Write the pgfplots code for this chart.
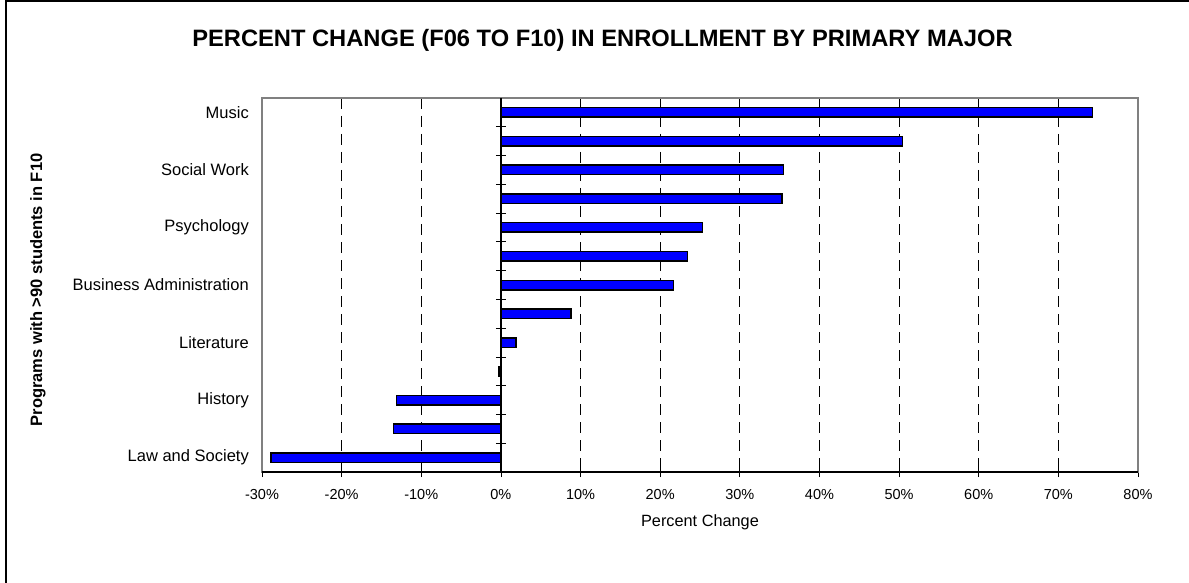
\documentclass[border=0pt]{standalone}
\usepackage{pgfplots}
\pgfplotsset{compat=1.18}
\usepackage{pgfplotstable}
\usepackage{fontspec}
\setmainfont{Liberation Sans}
\definecolor{barblue}{RGB}{0,0,255}
\definecolor{framegray}{RGB}{128,128,128}
\pgfplotstableread{
idx val
0 74.3
1 50.4
2 35.5
3 35.3
4 25.3
5 23.4
6 21.7
7 8.8
8 1.9
9 -0.25
10 -13.1
11 -13.5
12 -28.9
}\datatable
\begin{document}
\begin{tikzpicture}
\useasboundingbox (-262pt,-111pt) rectangle (927pt,472pt);
\draw[line width=1.6pt] (-256pt,-111pt) -- (-256pt,471pt) -- (927pt,471pt);
\begin{axis}[
  at={(0pt,0pt)}, anchor=south west,
  scale only axis, width=876pt, height=374pt,
  xmin=-30, xmax=80, ymin=-0.5, ymax=12.5, y dir=reverse,
  xbar, bar width=9.5pt,
  xtick={-30,-20,...,80},
  xticklabels={-30\%,-20\%,-10\%,0\%,10\%,20\%,30\%,40\%,50\%,60\%,70\%,80\%},
  xtick pos=bottom, tick align=center, major tick length=10pt,
  x tick style={black, line width=0.8pt},
  xticklabel style={font=\fontsize{14.5}{17}\selectfont, anchor=base, yshift=-22pt},
  ytick={0,2,...,12},
  yticklabels={Music,Social Work,Psychology,Business Administration,Literature,History,Law and Society},
  ytick pos=left, y tick style={draw=none},
  yticklabel style={font=\fontsize{16.5}{19}\selectfont, inner sep=0pt, xshift=-8pt},
  axis line style={framegray, line width=1.2pt},
  xmajorgrids, grid style={black, line width=0.8pt, dash pattern=on 11pt off 7pt},
  xlabel={Percent Change},
  xlabel style={at={(axis description cs:0.5,0)}, anchor=center, yshift=-50pt, font=\fontsize{16.3}{19}\selectfont},
  ylabel={Programs with >90 students in F10},
  ylabel style={at={(axis description cs:0,0.5)}, anchor=center, yshift=224pt, xshift=-5pt, font=\fontsize{16.5}{19}\selectfont\bfseries},
  title={PERCENT CHANGE (F06 TO F10) IN ENROLLMENT BY PRIMARY MAJOR},
  title style={at={(axis description cs:0.5,1)}, anchor=center, xshift=-97.5pt, yshift=52pt, font=\fontsize{23.7}{27}\selectfont\bfseries},
]
\addplot[fill=barblue, draw=black, line width=1.5pt] table[x=val, y=idx] {\datatable};
\draw[black, line width=1.4pt] (rel axis cs:0,0) -- (rel axis cs:1,0);
\end{axis}
\begin{axis}[
  at={(0pt,0pt)}, anchor=south west,
  scale only axis, width=876pt, height=374pt,
  xmin=-30, xmax=80, ymin=-0.5, ymax=12.5, y dir=reverse,
  axis x line=none, axis y line=middle,
  ytick={0.5,1.5,...,11.5}, yticklabels={},
  tick align=center, major tick length=10pt,
  y tick style={black, line width=0.8pt},
  y axis line style={black, line width=1.2pt, -},
  every inner y axis line/.append style={-},
]
\end{axis}
\end{tikzpicture}
\end{document}
